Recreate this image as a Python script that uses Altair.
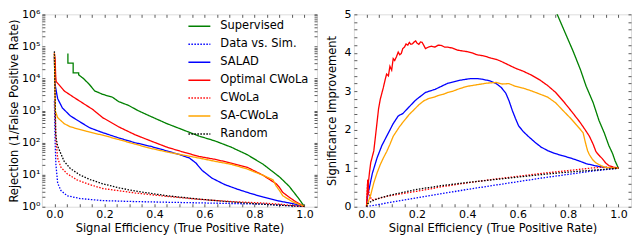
import altair as alt
import pandas as pd

FONT = "DejaVu Sans"

SERIES = ["Supervised", "Data vs. Sim.", "SALAD", "Optimal CWoLa", "CWoLa", "SA-CWoLa", "Random"]
COLORS = ["#008000", "#0000ff", "#0000ff", "#ff0000", "#ff0000", "#ffa500", "#000000"]
DASHES = [[1, 0], [1.5, 1.5], [1, 0], [1, 0], [1.5, 1.5], [1, 0], [1.5, 1.5]]

# ---------------- Left panel: rejection (1/FPR) vs signal efficiency ----------------
rej_sup_x = [0.054, 0.054, 0.075, 0.075, 0.097, 0.097, 0.116, 0.14, 0.161, 0.193, 0.232, 0.257, 0.296,
             0.334, 0.386, 0.45, 0.514, 0.578, 0.643, 0.707, 0.771, 0.835, 0.9, 0.938, 0.977, 1.0]
rej_sup_y = [60000, 30000, 30000, 15000, 15000, 13000, 10000, 6500, 4100, 3200, 2600, 1900, 1450,
             1000, 650, 390, 250, 160, 112, 72, 42, 21, 8.5, 4.4, 1.8, 1.0]

rej_dvs_x = [0.0, 0.003, 0.006, 0.013, 0.026, 0.051, 0.103, 0.193, 0.321, 0.45, 0.578, 0.707, 0.835, 1.0]
rej_dvs_y = [2000, 100, 21, 5.5, 3.2, 2.2, 1.8, 1.55, 1.45, 1.38, 1.32, 1.26, 1.2, 1.0]

rej_salad_x = [0.0, 0.002, 0.004, 0.013, 0.032, 0.064, 0.103, 0.141, 0.193, 0.257, 0.321, 0.386, 0.45,
               0.501, 0.54, 0.566, 0.591, 0.63, 0.681, 0.733, 0.784, 0.835, 0.9, 0.964, 1.0]
rej_salad_y = [50000, 8000, 5700, 2350, 1200, 680, 440, 290, 205, 140, 100, 76, 55,
               42, 33, 23, 13.5, 7.8, 4.9, 3.5, 2.6, 2.0, 1.5, 1.2, 1.0]

rej_opt_x = [0.0, 0.003, 0.005, 0.007, 0.019, 0.039, 0.077, 0.116, 0.154, 0.193, 0.257, 0.321, 0.386,
             0.45, 0.514, 0.578, 0.643, 0.707, 0.771, 0.835, 0.87, 0.887, 0.9, 0.913, 0.938, 0.964, 1.0]
rej_opt_y = [60000, 40000, 12000, 8000, 6300, 4100, 2600, 1660, 1070, 600, 310, 178, 112,
             72, 51, 37, 30, 23, 17, 9.5, 6.3, 5.2, 4.0, 2.8, 2.0, 1.45, 1.0]

rej_cwola_x = [0.0, 0.002, 0.004, 0.006, 0.013, 0.026, 0.051, 0.09, 0.141, 0.193, 0.321, 0.45, 0.578,
               0.707, 0.835, 0.9, 1.0]
rej_cwola_y = [60000, 8000, 600, 126, 33, 17, 10.7, 6.9, 4.9, 3.7, 2.7, 2.1, 1.7,
               1.45, 1.3, 1.2, 1.0]

rej_sa_x = [0.0, 0.002, 0.004, 0.013, 0.039, 0.064, 0.129, 0.193, 0.257, 0.321, 0.386, 0.45, 0.514,
            0.578, 0.643, 0.707, 0.771, 0.835, 0.874, 0.887, 0.9, 0.913, 0.951, 1.0]
rej_sa_y = [60000, 5000, 950, 600, 390, 310, 224, 170, 125, 90, 66, 51, 41,
            33, 26, 21, 15, 9.5, 6.9, 4.4, 3.2, 2.2, 1.45, 1.0]

rej_rand_x = [0.0, 0.002, 0.005, 0.008, 0.013, 0.039, 0.064, 0.103, 0.141, 0.193, 0.257, 0.321, 0.45,
              0.578, 0.707, 0.835, 1.0]
rej_rand_y = [70000, 6000, 200, 126, 77, 26, 15.5, 9.7, 7.1, 5.2, 3.9, 3.1, 2.2,
              1.73, 1.41, 1.2, 1.0]

# ---------------- Right panel: significance improvement ----------------
sic_sup_x = [0.72, 0.757, 0.79, 0.821, 0.85, 0.872, 0.9, 0.923, 0.945, 0.962, 0.977, 0.987, 1.0]
sic_sup_y = [5.8, 5.0, 4.5, 4.03, 3.55, 3.13, 2.7, 2.24, 1.9, 1.59, 1.38, 1.19, 1.0]

sic_dvs_x = [0.0, 0.05, 0.1, 0.2, 0.3, 0.4, 0.5, 0.6, 0.7, 0.8, 0.9, 1.0]
sic_dvs_y = [0.0, 0.06, 0.12, 0.23, 0.34, 0.45, 0.55, 0.65, 0.75, 0.84, 0.93, 1.0]

sic_salad_x = [0.0, 0.005, 0.01, 0.023, 0.042, 0.061, 0.08, 0.106, 0.125, 0.131, 0.144, 0.17, 0.195,
               0.234, 0.272, 0.323, 0.374, 0.412, 0.44, 0.463, 0.49, 0.515, 0.535, 0.553, 0.566, 0.579,
               0.591, 0.604, 0.623, 0.642, 0.668, 0.693, 0.719, 0.745, 0.776, 0.808, 0.84, 0.872,
               0.904, 0.936, 0.968, 1.0]
sic_salad_y = [0.0, 0.3, 0.45, 0.86, 1.27, 1.59, 1.83, 2.16, 2.35, 2.38, 2.42, 2.6, 2.77,
               2.97, 3.05, 3.21, 3.29, 3.33, 3.33, 3.31, 3.27, 3.2, 3.1, 2.95, 2.75, 2.5,
               2.3, 2.1, 1.95, 1.83, 1.68, 1.55, 1.46, 1.39, 1.33, 1.27, 1.2, 1.12,
               1.07, 1.03, 1.01, 1.0]

sic_opt_x = [0.0, 0.005, 0.006, 0.008, 0.012, 0.017, 0.023, 0.029, 0.036, 0.042, 0.048, 0.055, 0.061,
             0.067, 0.074, 0.08, 0.087, 0.093, 0.1, 0.106, 0.112, 0.119, 0.126, 0.132, 0.138, 0.144,
             0.151, 0.157, 0.164, 0.17, 0.176, 0.182, 0.189, 0.195, 0.201, 0.208, 0.214, 0.221, 0.227,
             0.234, 0.246, 0.259, 0.272, 0.285, 0.298, 0.31, 0.323, 0.342, 0.361, 0.38, 0.4, 0.419,
             0.438, 0.457, 0.476, 0.495, 0.515, 0.534, 0.553, 0.591, 0.623, 0.655, 0.687, 0.719,
             0.751, 0.783, 0.815, 0.847, 0.866, 0.885, 0.9, 0.911, 0.924, 0.936, 0.949, 0.962, 0.98, 1.0]
sic_opt_y = [0.0, 0.7, 0.3, 0.65, 0.9, 1.15, 1.3, 1.45, 1.85, 2.2, 2.55, 2.8, 2.95,
             3.1, 3.3, 3.45, 3.4, 3.65, 3.55, 3.85, 3.8, 3.9, 4.02, 3.95, 3.98, 4.11,
             4.15, 4.23, 4.2, 4.27, 4.22, 4.23, 4.28, 4.31, 4.25, 4.22, 4.28, 4.27, 4.2,
             4.11, 4.15, 4.17, 4.15, 4.2, 4.19, 4.15, 4.15, 4.12, 4.07, 4.05, 4.03, 4.0,
             3.95, 3.93, 3.9, 3.86, 3.83, 3.78, 3.72, 3.6, 3.52, 3.42, 3.3, 3.15,
             2.97, 2.73, 2.47, 2.2, 2.02, 1.83, 1.62, 1.43, 1.33, 1.25, 1.14, 1.07, 1.03, 1.0]

sic_cwola_x = [0.0, 0.005, 0.01, 0.02, 0.04, 0.08, 0.15, 0.2, 0.3, 0.4, 0.5, 0.6, 0.7, 0.8, 0.9, 0.95, 1.0]
sic_cwola_y = [0.0, 0.7, 0.35, 0.18, 0.2, 0.27, 0.35, 0.4, 0.52, 0.62, 0.71, 0.79, 0.87, 0.94, 1.01, 1.03, 1.0]

sic_sa_x = [0.0, 0.008, 0.016, 0.029, 0.042, 0.055, 0.068, 0.08, 0.093, 0.106, 0.131, 0.15, 0.17,
            0.19, 0.208, 0.227, 0.246, 0.265, 0.285, 0.304, 0.323, 0.342, 0.361, 0.38, 0.4, 0.419,
            0.438, 0.457, 0.476, 0.495, 0.515, 0.54, 0.565, 0.591, 0.623, 0.655, 0.687, 0.719, 0.751,
            0.783, 0.81, 0.834, 0.85, 0.86, 0.866, 0.872, 0.878, 0.885, 0.898, 0.911, 0.93, 0.949,
            0.975, 1.0]
sic_sa_y = [0.0, 0.15, 0.29, 0.62, 0.88, 1.1, 1.28, 1.43, 1.62, 1.83, 2.08, 2.24, 2.4,
            2.53, 2.65, 2.75, 2.81, 2.84, 2.89, 2.92, 2.97, 3.0, 3.05, 3.09, 3.13, 3.15,
            3.17, 3.19, 3.21, 3.22, 3.23, 3.19, 3.2, 3.13, 3.08, 3.01, 2.93, 2.85, 2.7,
            2.48, 2.3, 2.12, 2.0, 1.92, 1.75, 1.59, 1.45, 1.35, 1.22, 1.14, 1.07, 1.02,
            1.01, 1.0]

sic_rand_x = [0.0, 0.005, 0.01, 0.03, 0.06, 0.1, 0.2, 0.3, 0.4, 0.5, 0.6, 0.7, 0.8, 0.9, 1.0]
sic_rand_y = [0.0, 0.08, 0.11, 0.17, 0.24, 0.31, 0.45, 0.55, 0.63, 0.7, 0.77, 0.84, 0.9, 0.95, 1.0]

# tick positions
X_TICKS = [round(0.05 * k, 2) for k in range(21)]
LOG_TICKS = [m * 10 ** e for e in range(6) for m in range(1, 10)] + [10 ** 6]
SIC_TICKS = [round(0.2 * k, 1) for k in range(26)]


def build(pairs):
    rows = []
    for name, xs, ys in pairs:
        for i, (x, y) in enumerate(zip(xs, ys)):
            rows.append({"series": name, "i": i, "x": x, "y": y})
    return pd.DataFrame(rows)


df_left = build([
    ("Supervised", rej_sup_x, rej_sup_y),
    ("Data vs. Sim.", rej_dvs_x, rej_dvs_y),
    ("SALAD", rej_salad_x, rej_salad_y),
    ("Optimal CWoLa", rej_opt_x, rej_opt_y),
    ("CWoLa", rej_cwola_x, rej_cwola_y),
    ("SA-CWoLa", rej_sa_x, rej_sa_y),
    ("Random", rej_rand_x, rej_rand_y),
])
df_right = build([
    ("Supervised", sic_sup_x, sic_sup_y),
    ("Data vs. Sim.", sic_dvs_x, sic_dvs_y),
    ("SALAD", sic_salad_x, sic_salad_y),
    ("Optimal CWoLa", sic_opt_x, sic_opt_y),
    ("CWoLa", sic_cwola_x, sic_cwola_y),
    ("SA-CWoLa", sic_sa_x, sic_sa_y),
    ("Random", sic_rand_x, sic_rand_y),
])

TICK = dict(domain=False, grid=False, tickSize=3, offset=-3, tickColor="#333333", tickWidth=0.8)
GHOST = dict(labels=False, title=None, minExtent=0, maxExtent=0, **TICK)
LAB = dict(labelFont=FONT, labelFontSize=11, labelColor="black", titleFont=FONT, titleFontSize=11.5,
           titleFontWeight="normal", titleColor="black", labelOverlap=False)

X_LABEL = "abs(datum.value*5 - round(datum.value*5)) < 0.000001 ? format(datum.value, '.1f') : ''"
LOG_LABEL = ("indexof([1,10,100,1000,10000,100000,1000000], datum.value) >= 0 ? "
             "'10' + ['\u2070','\u00b9','\u00b2','\u00b3','\u2074','\u2075','\u2076'][round(log(datum.value)/LN10)] : ''")
SIC_LABEL = "abs(datum.value - round(datum.value)) < 0.000001 ? format(datum.value, 'd') : ''"

x_scale = alt.Scale(domain=[-0.05, 1.05], nice=False, zero=False)
log_scale = alt.Scale(type="log", domain=[1, 1000000], nice=False)
sic_scale = alt.Scale(domain=[0, 5], nice=False, zero=False)

W1, W2, H = 276, 278, 193

legend = alt.Legend(title=None, orient="none", legendX=W1 - 130, legendY=0, symbolType="stroke",
                    symbolSize=484, symbolStrokeWidth=1.5, labelFont=FONT, labelFontSize=11.5,
                    labelColor="black", labelOffset=9, rowPadding=-7, padding=0)

color_l = alt.Color("series:N", scale=alt.Scale(domain=SERIES, range=COLORS), legend=legend)
dash_l = alt.StrokeDash("series:N", scale=alt.Scale(domain=SERIES, range=DASHES), legend=legend)
color_r = alt.Color("series:N", scale=alt.Scale(domain=SERIES, range=COLORS), legend=None)
dash_r = alt.StrokeDash("series:N", scale=alt.Scale(domain=SERIES, range=DASHES), legend=None)

left_lines = alt.Chart(df_left).mark_line(strokeWidth=1.3, clip=True).encode(
    x=alt.X("x:Q", scale=x_scale, axis=alt.Axis(values=X_TICKS, labelExpr=X_LABEL, labelPadding=2,
            title="Signal Efficiency (True Positive Rate)", titlePadding=3, **TICK, **LAB)),
    y=alt.Y("y:Q", scale=log_scale, axis=alt.Axis(values=LOG_TICKS, labelExpr=LOG_LABEL, labelPadding=2,
            title="Rejection (1/False Positive Rate)", titlePadding=2, **TICK, **LAB)),
    color=color_l, strokeDash=dash_l, order=alt.Order("i:Q"),
)
left_ghost = alt.Chart(df_left).mark_point(opacity=0, size=0, clip=True).encode(
    x=alt.X("x:Q", scale=x_scale, axis=alt.Axis(orient="top", values=X_TICKS, **GHOST)),
    y=alt.Y("y:Q", scale=log_scale, axis=alt.Axis(orient="right", values=LOG_TICKS, **GHOST)),
)
left = alt.layer(left_lines, left_ghost).resolve_axis(x="independent", y="independent").properties(width=W1, height=H)

right_lines = alt.Chart(df_right).mark_line(strokeWidth=1.3, clip=True).encode(
    x=alt.X("x:Q", scale=x_scale, axis=alt.Axis(values=X_TICKS, labelExpr=X_LABEL, labelPadding=2,
            title="Signal Efficiency (True Positive Rate)", titlePadding=3, **TICK, **LAB)),
    y=alt.Y("y:Q", scale=sic_scale, axis=alt.Axis(values=SIC_TICKS, labelExpr=SIC_LABEL, labelPadding=3,
            title="Significance Improvement", titlePadding=6, **TICK, **LAB)),
    color=color_r, strokeDash=dash_r, order=alt.Order("i:Q"),
)
right_ghost = alt.Chart(df_right).mark_point(opacity=0, size=0, clip=True).encode(
    x=alt.X("x:Q", scale=x_scale, axis=alt.Axis(orient="top", values=X_TICKS, **GHOST)),
    y=alt.Y("y:Q", scale=sic_scale, axis=alt.Axis(orient="right", values=SIC_TICKS, **GHOST)),
)
right = alt.layer(right_lines, right_ghost).resolve_axis(x="independent", y="independent").properties(width=W2, height=H)

chart = alt.hconcat(left, right, spacing=8).resolve_scale(
    color="independent", strokeDash="independent"
).properties(
    padding={"left": 0, "top": -1, "right": 0, "bottom": 0}
).configure_view(
    stroke="#333333", strokeWidth=1
).configure(background="white")

chart.save("out.html", embed_options={"renderer": "svg", "actions": False})
